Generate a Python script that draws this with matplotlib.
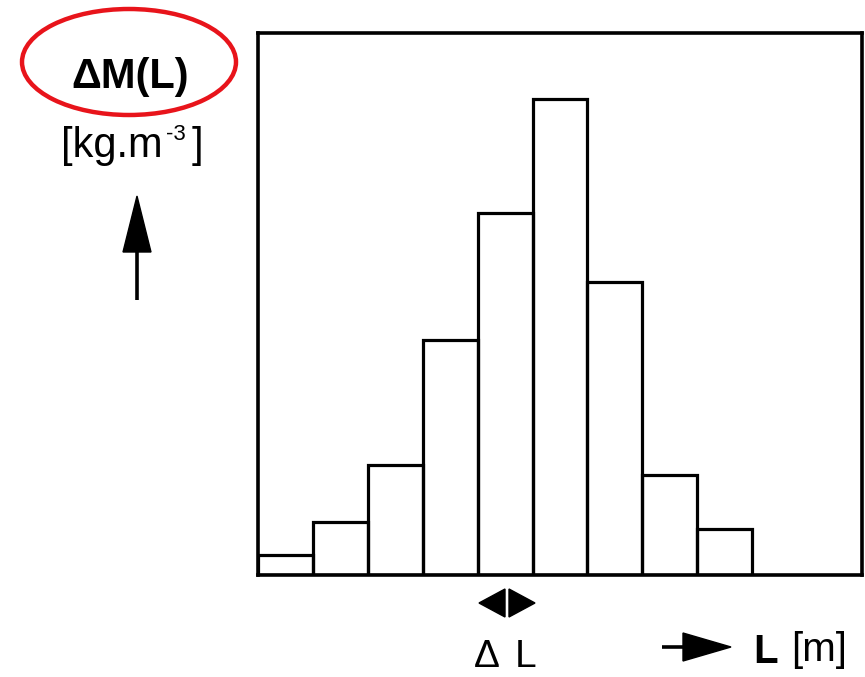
import matplotlib
matplotlib.use("Agg")
import matplotlib.pyplot as plt
from matplotlib.patches import Ellipse, Polygon

# Data (class index along L, relative mass increment)
bins = [0, 1, 2, 3, 4, 5, 6, 7, 8]
heights = [20, 53, 110, 235, 362, 476, 293, 100, 46]
x_max = 11
y_max = 542

W, H = 865, 677
fig = plt.figure(figsize=(W / 100, H / 100), dpi=100)
fig.patch.set_facecolor("white")

# Main histogram axes
ax = fig.add_axes([258 / W, (H - 575) / H, 604 / W, 542 / H])
ax.bar(bins, heights, width=1, align="edge", fill=False,
       edgecolor="black", linewidth=2.3)
ax.set_xlim(0, x_max)
ax.set_ylim(0, y_max)
ax.set_xticks([])
ax.set_yticks([])
for s in ax.spines.values():
    s.set_linewidth(2.6)
    s.set_color("black")

# Overlay axes in pixel coordinates for annotations
ov = fig.add_axes([0, 0, 1, 1], zorder=5)
ov.set_xlim(0, W)
ov.set_ylim(H, 0)
ov.axis("off")
ov.patch.set_alpha(0)

font = "Liberation Sans"

# Red ellipse around the label
ov.add_patch(Ellipse((129, 62), 214, 106, fill=False, edgecolor="#e8141b", linewidth=3.2))
ov.text(130, 88, "\u0394M(L)", fontsize=30, fontweight="bold", family=font,
        ha="center", va="baseline")

# Unit label
ov.text(61, 157, "[kg.m", fontsize=30, family=font, ha="left", va="baseline")
ov.text(166, 140, "-3", fontsize=16, family=font, ha="left", va="baseline")
ov.text(192, 157, "]", fontsize=30, family=font, ha="left", va="baseline")

# Up arrow
ov.plot([137, 137], [300, 250], color="black", lw=2.6, solid_capstyle="butt")
ov.add_patch(Polygon([[123, 252], [151, 252], [137, 196]], closed=True,
                     facecolor="black", edgecolor="black"))

# Delta L double arrow
ov.add_patch(Polygon([[479, 603], [505, 589], [505, 617]], closed=True,
                     facecolor="black", edgecolor="black"))
ov.add_patch(Polygon([[535, 603], [509, 589], [509, 617]], closed=True,
                     facecolor="black", edgecolor="black"))
ov.text(474, 667, "\u0394", fontsize=28, family=font, ha="left", va="baseline")
ov.text(515, 667, "L", fontsize=28, family=font, ha="left", va="baseline")

# L axis arrow
ov.plot([662, 690], [647, 647], color="black", lw=2.6, solid_capstyle="butt")
ov.add_patch(Polygon([[683, 633], [683, 661], [731, 647]], closed=True,
                     facecolor="black", edgecolor="black"))
ov.text(753, 663, "L", fontsize=29, fontweight="bold", family=font, ha="left", va="baseline")
ov.text(791, 661, "[m]", fontsize=29, family=font, ha="left", va="baseline")

fig.savefig("out.png", dpi=100, facecolor="white")
